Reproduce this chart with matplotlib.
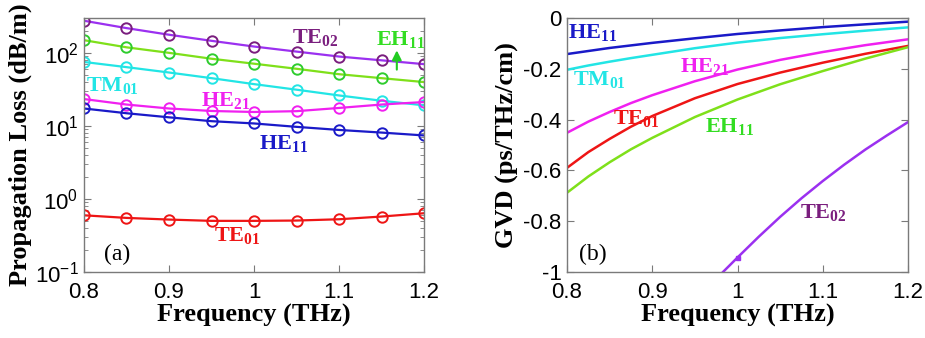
import matplotlib
matplotlib.use("Agg")
import matplotlib.pyplot as plt
from matplotlib.ticker import FormatStrFormatter, LogLocator

plt.rcParams['font.family'] = 'Liberation Sans'
plt.rcParams['mathtext.fontset'] = 'custom'
plt.rcParams['mathtext.rm'] = 'Liberation Serif'
plt.rcParams['mathtext.bf'] = 'Liberation Serif:bold'
plt.rcParams['axes.unicode_minus'] = False

# (a) propagation loss, dB/m
freq_a = [0.8, 0.85, 0.9, 0.95, 1.0, 1.05, 1.1, 1.15, 1.2]
loss_te02 = [275, 218, 177, 146, 122, 104, 89, 79, 70]
loss_eh11 = [149, 119, 100, 83, 71, 60.5, 51, 45, 39.8]
loss_tm01 = [75, 63.7, 53.8, 45, 37.3, 31.3, 26.1, 22.1, 19.1]
loss_he21 = [23.3, 19.6, 17.3, 16.0, 15.5, 15.9, 17.6, 19.6, 21.2]
loss_he11 = [17.3, 14.9, 13.1, 11.6, 10.8, 9.7, 8.8, 8.1, 7.4]
loss_te01 = [0.597, 0.55, 0.522, 0.501, 0.501, 0.506, 0.527, 0.574, 0.637]

# (b) GVD, ps/THz/cm
freq_b = [0.8, 0.825, 0.85, 0.875, 0.9, 0.95, 1.0, 1.05, 1.1, 1.15, 1.2]
gvd_he11 = [-0.142, -0.130, -0.118, -0.108, -0.098, -0.080, -0.063, -0.049, -0.036, -0.025, -0.0145]
gvd_tm01 = [-0.204, -0.187, -0.172, -0.158, -0.145, -0.119, -0.097, -0.079, -0.064, -0.050, -0.037]
gvd_he21 = [-0.452, -0.408, -0.370, -0.335, -0.304, -0.249, -0.203, -0.165, -0.134, -0.107, -0.084]
gvd_te01 = [-0.590, -0.528, -0.476, -0.428, -0.386, -0.316, -0.260, -0.215, -0.176, -0.141, -0.110]
gvd_eh11 = [-0.688, -0.624, -0.568, -0.517, -0.472, -0.390, -0.321, -0.261, -0.209, -0.160, -0.115]
freq_te02 = [0.983, 1.0, 1.025, 1.05, 1.075, 1.1, 1.125, 1.15, 1.175, 1.2]
gvd_te02 = [-1.0, -0.943, -0.861, -0.783, -0.710, -0.642, -0.578, -0.518, -0.463, -0.41]

c_te02 = '#9B30F0'
c_te02_txt = '#7A1E7E'
c_eh11 = '#7FE01A'
c_eh11_txt = '#33DD22'
c_tm01 = '#22E5E5'
c_he21 = '#F020F0'
c_he11 = '#1A1AC8'
c_te01 = '#EE1515'

fig = plt.figure(figsize=(9.25, 3.38), dpi=100)
ax1 = fig.add_axes([0.0908, 0.1953, 0.3676, 0.7515])
ax2 = fig.add_axes([0.613, 0.1953, 0.3686, 0.7515])

lab_font = dict(family='Liberation Serif', weight='bold', size=19)

# ---- panel (a)
mk = dict(marker='o', markersize=7.5, markerfacecolor='none', markeredgewidth=1.4, linewidth=1.6)
ax1.semilogy(freq_a, loss_te02, color=c_te02, markeredgecolor=c_te02_txt, **mk)
ax1.semilogy(freq_a, loss_eh11, color=c_eh11, markeredgecolor='#2ECC2E', **mk)
ax1.semilogy(freq_a, loss_tm01, color=c_tm01, **mk)
ax1.semilogy(freq_a, loss_he21, color=c_he21, **mk)
ax1.semilogy(freq_a, loss_he11, color=c_he11, **mk)
ax1.semilogy(freq_a, loss_te01, color=c_te01, **mk)
ax1.set_xlim(0.8, 1.2)
ax1.set_ylim(0.1, 300)
ax1.set_xticks([0.8, 0.9, 1.0, 1.1, 1.2])
ax1.xaxis.set_major_formatter(FormatStrFormatter('%g'))
ax1.yaxis.set_major_locator(LogLocator(base=10, numticks=10))
ax1.set_xlabel('Frequency (THz)', fontdict=lab_font, labelpad=1)
ax1.set_ylabel('Propagation Loss (dB/m)', fontdict=lab_font, labelpad=2)

ann = dict(ha='center', va='center', fontsize=16)
ax1.text(1.072, 164, r'$\mathbf{TE_{02}}$', color=c_te02_txt, **ann)
ax1.text(1.172, 152, r'$\mathbf{EH_{11}}$', color=c_eh11_txt, **ann)
ax1.text(0.834, 35.3, r'$\mathbf{TM_{01}}$', color=c_tm01, **ann)
ax1.text(0.967, 22.3, r'$\mathbf{HE_{21}}$', color=c_he21, **ann)
ax1.text(1.035, 5.8, r'$\mathbf{HE_{11}}$', color=c_he11, **ann)
ax1.text(0.98, 0.316, r'$\mathbf{TE_{01}}$', color=c_te01, **ann)
ax1.annotate('', xy=(1.168, 118), xytext=(1.168, 54),
             arrowprops=dict(arrowstyle='-|>', color='#22CC22', lw=1.5, mutation_scale=14))
ax1.text(0.839, 0.174, '(a)', ha='center', va='center', fontsize=17, family='Liberation Serif')

# ---- panel (b)
ax2.plot(freq_b, gvd_he11, color=c_he11, linewidth=1.8)
ax2.plot(freq_b, gvd_tm01, color=c_tm01, linewidth=1.8)
ax2.plot(freq_b, gvd_he21, color=c_he21, linewidth=1.8)
ax2.plot(freq_b, gvd_te01, color=c_te01, linewidth=1.8)
ax2.plot(freq_b, gvd_eh11, color=c_eh11, linewidth=1.8)
ax2.plot(freq_te02, gvd_te02, color=c_te02, linewidth=1.8)
ax2.plot(freq_te02[1], gvd_te02[1], marker='s', markersize=3, color=c_te02)
ax2.set_xlim(0.8, 1.2)
ax2.set_ylim(-1, 0)
ax2.set_xticks([0.8, 0.9, 1.0, 1.1, 1.2])
ax2.set_yticks([-1, -0.8, -0.6, -0.4, -0.2, 0])
ax2.xaxis.set_major_formatter(FormatStrFormatter('%g'))
ax2.yaxis.set_major_formatter(FormatStrFormatter('%g'))
ax2.set_xlabel('Frequency (THz)', fontdict=lab_font, labelpad=1)
ax2.set_ylabel('GVD (ps/THz/cm)', fontdict=lab_font, labelpad=3)

ax2.text(0.8305, -0.059, r'$\mathbf{HE_{11}}$', color=c_he11, **ann)
ax2.text(0.8375, -0.243, r'$\mathbf{TM_{01}}$', color=c_tm01, **ann)
ax2.text(0.961, -0.192, r'$\mathbf{HE_{21}}$', color=c_he21, **ann)
ax2.text(0.881, -0.396, r'$\mathbf{TE_{01}}$', color=c_te01, **ann)
ax2.text(0.991, -0.427, r'$\mathbf{EH_{11}}$', color=c_eh11_txt, **ann)
ax2.text(1.101, -0.765, r'$\mathbf{TE_{02}}$', color=c_te02_txt, **ann)
ax2.text(0.83, -0.93, '(b)', ha='center', va='center', fontsize=17, family='Liberation Serif')

for ax in (ax1, ax2):
    for s in ax.spines.values():
        s.set_color('#7a7a7a')
        s.set_linewidth(1.0)
    ax.tick_params(which='both', direction='in', top=True, right=True,
                   labelsize=16, color='#7a7a7a')
    ax.tick_params(axis='x', pad=7)
    ax.tick_params(axis='y', pad=4)
    ax.tick_params(which='major', length=5)
    ax.tick_params(which='minor', length=3)

fig.savefig('out.png', dpi=100)
